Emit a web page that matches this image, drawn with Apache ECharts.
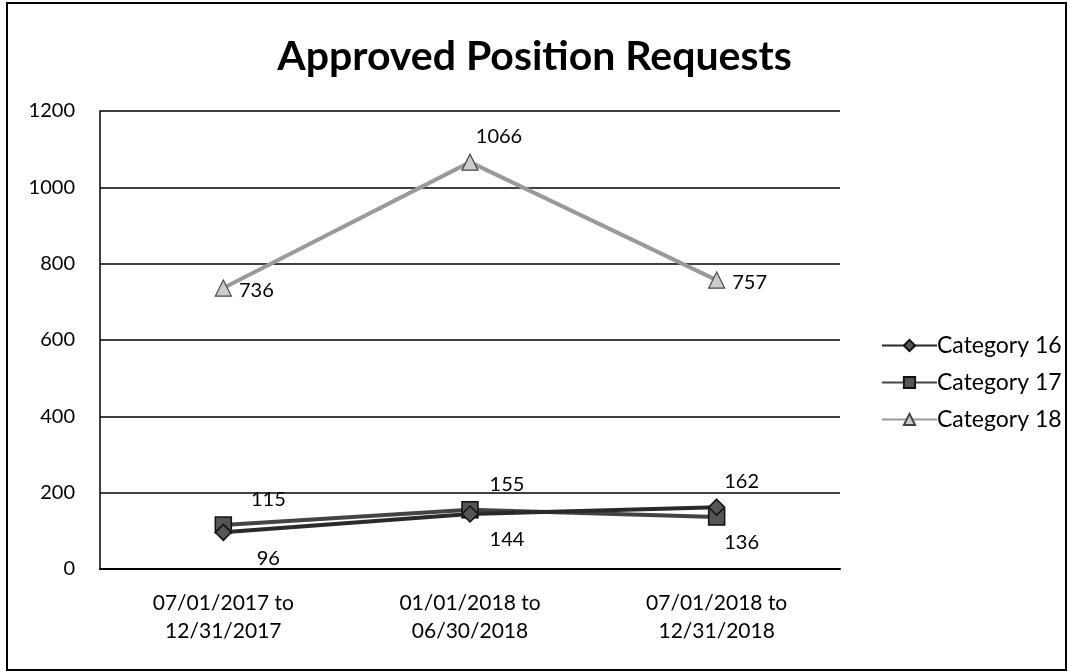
<!DOCTYPE html>
<html>
<head>
<meta charset="utf-8">
<script src="https://cdn.jsdelivr.net/npm/echarts@6/dist/echarts.min.js"></script>
<style>
  html, body { margin: 0; padding: 0; background: #fff; }
  #main { width: 1069px; height: 671px; }
</style>
</head>
<body>
<div id="main"></div>
<script>
// data
var periods = ['07/01/2017 to\n12/31/2017', '01/01/2018 to\n06/30/2018', '07/01/2018 to\n12/31/2018'];
var cat16 = [96, 144, 162];
var cat17 = [115, 155, 136];
var cat18 = [736, 1066, 757];
var yTicks = { min: 0, max: 1200, step: 200 };

// where each value label sits
var pos16 = ['bottom', 'bottom', 'top'];
var pos17 = ['top', 'top', 'bottom'];
var pos18 = ['right', 'top', 'right'];
var shift = [45, 37, 25];

var FONT = 'Lato';

function withLabels(vals, pos) {
    return vals.map(function (v, i) {
        var p = pos[i];
        return {
            value: v,
            label: {
                position: p,
                offset: p === 'right' ? [0, 2] : [p === 'top' && v > 1000 ? 29 : shift[i], 0]
            }
        };
    });
}

var myChart = echarts.init(document.getElementById('main'));
var option = {
    backgroundColor: '#fff',
    textStyle: { fontFamily: FONT },
    title: {
        text: 'Approved Position Requests',
        left: 'center',
        top: 31,
        textStyle: { fontFamily: FONT, fontSize: 41, fontWeight: 'bold', color: '#000' }
    },
    graphic: [{
        type: 'rect',
        shape: { x: 7, y: 3, width: 1059, height: 667 },
        style: { fill: 'none', stroke: '#000', lineWidth: 2 },
        silent: true
    }],
    grid: { left: 100, right: 229, top: 111, bottom: 102 },
    legend: {
        orient: 'vertical',
        left: 876,
        top: 329,
        itemWidth: 55,
        itemHeight: 14,
        itemGap: 14,
        textStyle: { fontFamily: FONT, fontSize: 23, color: '#000', padding: [0, 0, 0, -5] },
        data: ['Category 16', 'Category 17', 'Category 18']
    },
    xAxis: {
        type: 'category',
        data: periods,
        boundaryGap: true,
        axisLine: { lineStyle: { color: '#000', width: 2 } },
        axisTick: { show: false },
        axisLabel: { fontFamily: FONT, fontSize: 21, color: '#000', margin: 20, lineHeight: 28 }
    },
    yAxis: {
        type: 'value',
        min: yTicks.min,
        max: yTicks.max,
        interval: yTicks.step,
        axisLine: { show: true, lineStyle: { color: '#000', width: 1.5 } },
        axisTick: { show: false },
        axisLabel: { fontFamily: FONT, fontSize: 20, color: '#000', margin: 25, formatter: function (v) { return String(v); } },
        splitLine: { lineStyle: { color: '#000', width: 1.5 } }
    },
    series: [
        {
            name: 'Category 16',
            type: 'line',
            data: withLabels(cat16, pos16),
            symbol: 'diamond',
            symbolSize: 16,
            color: '#2a2a2a',
            lineStyle: { width: 4, color: '#2a2a2a' },
            itemStyle: { color: '#555', borderColor: '#111', borderWidth: 1.5 },
            label: { show: true, fontFamily: FONT, fontSize: 20, color: '#000', distance: 7 },
            z: 3
        },
        {
            name: 'Category 17',
            type: 'line',
            data: withLabels(cat17, pos17),
            symbol: 'rect',
            symbolSize: 16,
            color: '#444',
            lineStyle: { width: 4, color: '#444' },
            itemStyle: { color: '#555', borderColor: '#111', borderWidth: 1.5 },
            label: { show: true, fontFamily: FONT, fontSize: 20, color: '#000', distance: 7 },
            z: 2
        },
        {
            name: 'Category 18',
            type: 'line',
            data: withLabels(cat18, pos18),
            symbol: 'triangle',
            symbolSize: 16,
            color: '#9a9a9a',
            lineStyle: { width: 4, color: '#9a9a9a' },
            itemStyle: { color: '#ccc', borderColor: '#444', borderWidth: 1.2 },
            label: { show: true, fontFamily: FONT, fontSize: 20, color: '#000', distance: 7 },
            z: 2
        }
    ]
};
myChart.setOption(option);
</script>
</body>
</html>
